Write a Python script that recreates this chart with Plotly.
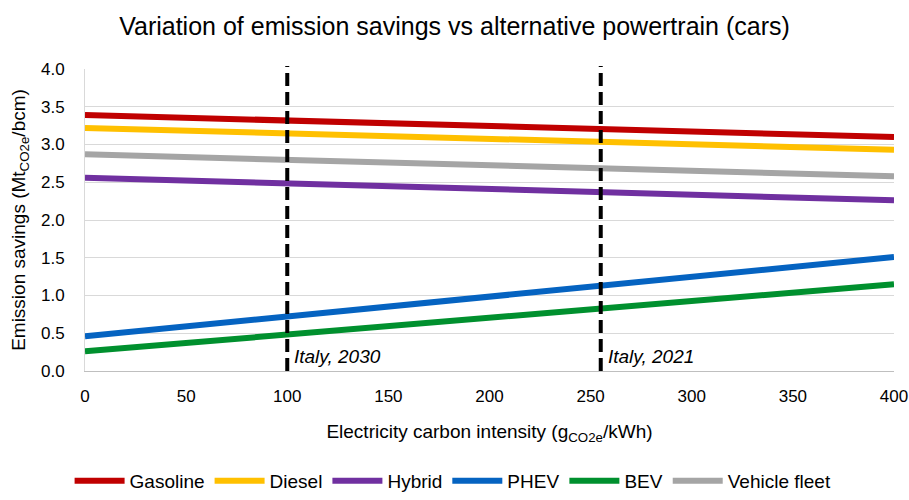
import plotly.graph_objects as go

carbon_intensity = [0, 400]
series_names = ["Gasoline", "Diesel", "Hybrid", "PHEV", "BEV", "Vehicle fleet"]
gasoline = [3.39, 3.10]
diesel = [3.22, 2.93]
hybrid = [2.56, 2.26]
phev = [0.46, 1.51]
bev = [0.26, 1.15]
fleet = [2.87, 2.58]
colors = ["#C00000", "#FFC000", "#7030A0", "#0563C1", "#00902E", "#A5A5A5"]

markers_x = [100, 255]
markers_label = ["Italy, 2030", "Italy, 2021"]

FONT = "Liberation Sans Narrow, Arial Narrow, Liberation Sans, Arial, sans-serif"

fig = go.Figure()
for name, vals, c in zip(series_names, [gasoline, diesel, hybrid, phev, bev, fleet], colors):
    fig.add_trace(go.Scatter(x=carbon_intensity, y=vals, mode="lines", name=name,
                             line=dict(color=c, width=6)))

for mx, lab in zip(markers_x, markers_label):
    fig.add_shape(type="line", x0=mx, x1=mx, y0=0, y1=1.01, xref="x", yref="paper",
                  line=dict(color="black", width=4, dash="13px,6px"))
    fig.add_annotation(x=mx, y=0.19, xref="x", yref="y", text="<i>" + lab + "</i>",
                       showarrow=False, xanchor="left", xshift=5,
                       font=dict(family=FONT, size=19, color="black"))

fig.update_layout(
    width=909, height=500,
    margin=dict(l=85, r=15, t=69, b=129),
    paper_bgcolor="white", plot_bgcolor="white",
    font=dict(family=FONT, size=17, color="black"),
    title=dict(text="Variation of emission savings vs alternative powertrain (cars)",
               x=0.5, xanchor="center", y=0.948, yanchor="middle",
               font=dict(family=FONT, size=25, color="black")),
    xaxis=dict(range=[0, 400], tickvals=[0, 50, 100, 150, 200, 250, 300, 350, 400],
               showgrid=False, showline=True, linecolor="#BFBFBF", linewidth=1,
               ticks="", tickfont=dict(size=17), zeroline=False, automargin=False,
               ticklabelstandoff=10,
               title=dict(text="Electricity carbon intensity (g<sub>CO2e</sub>/kWh)",
                          font=dict(size=19), standoff=19)),
    yaxis=dict(range=[0, 4.0], dtick=0.5, tickformat=".1f", showgrid=True,
               gridcolor="#D9D9D9", gridwidth=1, showline=True, linecolor="#D9D9D9",
               ticks="", tickfont=dict(size=17), zeroline=False, automargin=False,
               ticklabelstandoff=16,
               title=dict(text="Emission savings (Mt<sub>CO2e</sub>/bcm)",
                          font=dict(size=19), standoff=10)),
    legend=dict(orientation="h", x=0.455, xanchor="center", y=-0.018, yanchor="bottom",
                yref="container", font=dict(size=19), itemwidth=50, tracegroupgap=0),
    showlegend=True,
)

fig.write_html("out.html", config={"displayModeBar": False},
               post_script="document.body.style.margin='0';")
